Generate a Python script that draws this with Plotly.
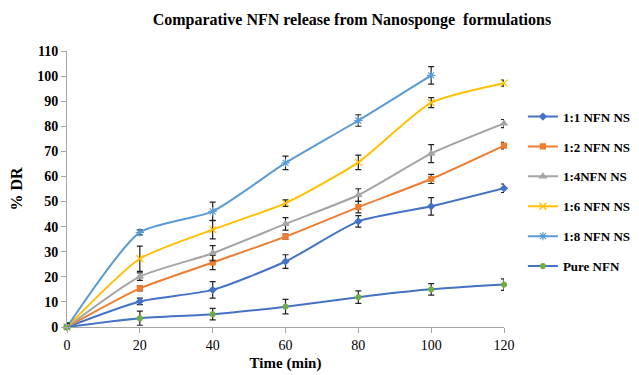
import plotly.graph_objects as go

time_min = [0, 20, 40, 60, 80, 100, 120]

ns_1_1 = [0, 10.2, 14.8, 26.1, 42.1, 48.1, 55.3]
ns_1_1_err = [1.5, 1.3, 3.3, 2.7, 2.3, 3.5, 1.7]
ns_1_2 = [0, 15.4, 25.7, 36.0, 47.8, 59.0, 72.3]
ns_1_2_err = [1.5, 1.0, 2.8, 1.0, 2.3, 1.8, 1.3]
ns_1_4 = [0, 20.1, 29.4, 41.1, 52.6, 69.1, 81.1]
ns_1_4_err = [1.5, 1.5, 3.0, 2.5, 2.5, 3.6, 1.6]
ns_1_6 = [0, 27.2, 38.8, 49.4, 65.6, 89.4, 97.2]
ns_1_6_err = [1.5, 5.0, 3.7, 1.3, 2.9, 2.0, 1.2]
ns_1_8 = [0, 37.7, 46.1, 65.4, 82.3, 100.3]
ns_1_8_err = [1.5, 1.0, 3.7, 2.7, 2.3, 3.5]
pure = [0, 3.5, 5.1, 8.1, 11.9, 15.0, 16.9]
pure_err = [1.5, 2.8, 2.3, 2.9, 2.5, 2.3, 2.3]

series = [
    ("1:1 NFN NS", ns_1_1, ns_1_1_err, "#4472C4", "#4472C4", "diamond", 5),
    ("1:2 NFN NS", ns_1_2, ns_1_2_err, "#ED7D31", "#ED7D31", "square", 5),
    ("1:4NFN NS", ns_1_4, ns_1_4_err, "#A5A5A5", "#A5A5A5", "triangle-up", 6),
    ("1:6 NFN NS", ns_1_6, ns_1_6_err, "#FFC000", "#FFC000", "x-thin", 7),
    ("1:8 NFN NS", ns_1_8, ns_1_8_err, "#5B9BD5", "#5B9BD5", "asterisk", 7),
    ("Pure NFN", pure, pure_err, "#4472C4", "#70AD47", "circle", 5),
]

fig = go.Figure()
for i, (name, vals, errs, lc, mc, sym, sz) in enumerate(series):
    fig.add_trace(go.Scatter(
        x=time_min[:len(vals)], y=vals, name=f"<b>{name}</b>", mode="lines+markers",
        legendgroup=f"g{i}",
        line=dict(color=lc, width=2, shape="spline", smoothing=0.6),
        marker=dict(color=mc, symbol=sym, size=sz, line=dict(color=mc, width=1.2)),
        error_y=dict(type="data", array=errs, visible=True, color="#222222",
                     thickness=1.2, width=3),
        cliponaxis=False,
    ))

font_fam = "Liberation Serif, Times New Roman, serif"
fig.update_layout(
    width=631, height=367,
    paper_bgcolor="white", plot_bgcolor="white",
    margin=dict(l=59, r=135, t=43, b=48),
    font=dict(family=font_fam, color="black"),
    title=dict(text="<b>Comparative NFN release from Nanosponge  formulations</b>",
               x=0.545, xanchor="center", y=0.97, yanchor="middle",
               font=dict(size=16, family=font_fam)),
    showlegend=True,
    legend=dict(xref="container", yref="container", x=0.816, y=0.745,
                xanchor="left", yanchor="top",
                font=dict(size=13, family=font_fam), tracegroupgap=10,
                bgcolor="rgba(0,0,0,0)", itemwidth=30),
    xaxis=dict(range=[0, 120], tickvals=time_min, showgrid=False, zeroline=False,
               automargin=False,
               showline=True, linecolor="#A6A6A6", linewidth=1,
               ticks="outside", tickcolor="#A6A6A6", ticklen=5,
               tickfont=dict(size=14, family=font_fam),
               tickprefix="<b>", ticksuffix="</b>",
               title=dict(text="<b>Time (min)</b>", font=dict(size=15), standoff=5)),
    yaxis=dict(range=[0, 110], dtick=10, showgrid=False, zeroline=False,
               automargin=False,
               showline=True, linecolor="#A6A6A6", linewidth=1,
               ticks="outside", tickcolor="#A6A6A6", ticklen=5,
               tickfont=dict(size=14, family=font_fam),
               tickprefix="<b>", ticksuffix="</b>",
               title=dict(text="<b>% DR</b>", font=dict(size=16), standoff=12)),
)
fig.write_html("out.html")
